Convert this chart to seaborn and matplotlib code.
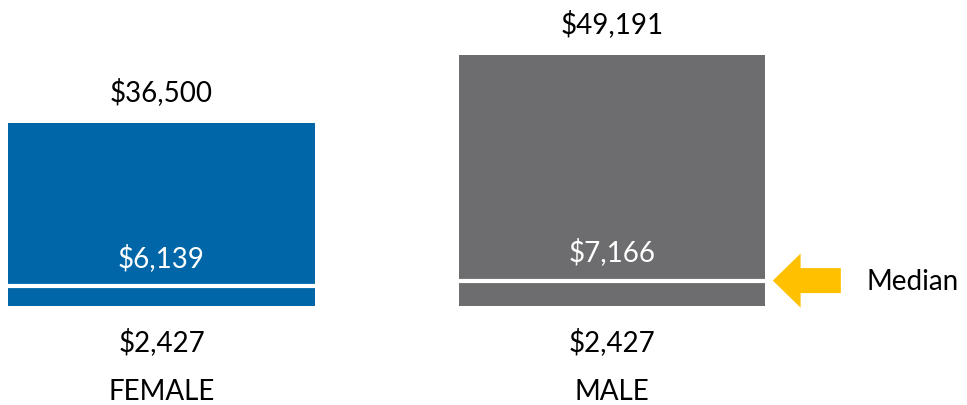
import numpy as np
import seaborn as sns
import matplotlib.pyplot as plt

# spread of earnings by sex: low end, median, high end
categories = ["FEMALE", "MALE"]
lows = np.array([2427, 2427])
medians = np.array([6139, 7166])
highs = np.array([36500, 49191])
colors = ["#0066A8", "#6D6D6F"]

sns.set_theme(style="white")
plt.rcParams["font.family"] = ["Lato", "DejaVu Sans"]

fig = plt.figure(figsize=(9.67, 4.06), dpi=100)
ax = fig.add_axes([0, 0, 1, 1])

bar_w = 0.681
sns.barplot(x=categories, y=highs - lows, bottom=lows, width=bar_w,
            color=colors[0], linewidth=0, ax=ax)
for patch, c in zip(ax.patches, colors):
    patch.set_facecolor(c)
    patch.set_edgecolor("none")

xs = np.arange(len(categories))
ax.hlines(medians, xs - bar_w / 2, xs + bar_w / 2, color="white", lw=3)

fs = 20
for x, lo, med, hi, cat in zip(xs, lows, medians, highs, categories):
    ax.annotate(f"${hi:,}", (x, hi), xytext=(0, 23), textcoords="offset points",
                ha="center", va="center", fontsize=fs, color="black")
    ax.annotate(f"${med:,}", (x, med), xytext=(0, 21), textcoords="offset points",
                ha="center", va="center", fontsize=fs, color="white")
    ax.annotate(f"${lo:,}", (x, lo), xytext=(0, -25), textcoords="offset points",
                ha="center", va="center", fontsize=fs, color="black")
    ax.annotate(cat, (x, lo), xytext=(0, -61), textcoords="offset points",
                ha="center", va="center", fontsize=fs, color="black")

# arrow pointing at the male median
ax.annotate("", xy=(1.357, medians[1]), xytext=(1.508, medians[1]),
            arrowprops=dict(arrowstyle="simple,head_length=20,head_width=39,tail_width=18",
                            mutation_scale=1, color="#FFC000", lw=0,
                            shrinkA=0, shrinkB=0))
ax.text(1.564, medians[1], "Median", ha="left", va="center", fontsize=fs, color="black")

ax.set_xlim(-0.3585, 1.788)
ax.set_ylim(-16036, 59683)
ax.axis("off")

fig.savefig("out.png", dpi=100)
